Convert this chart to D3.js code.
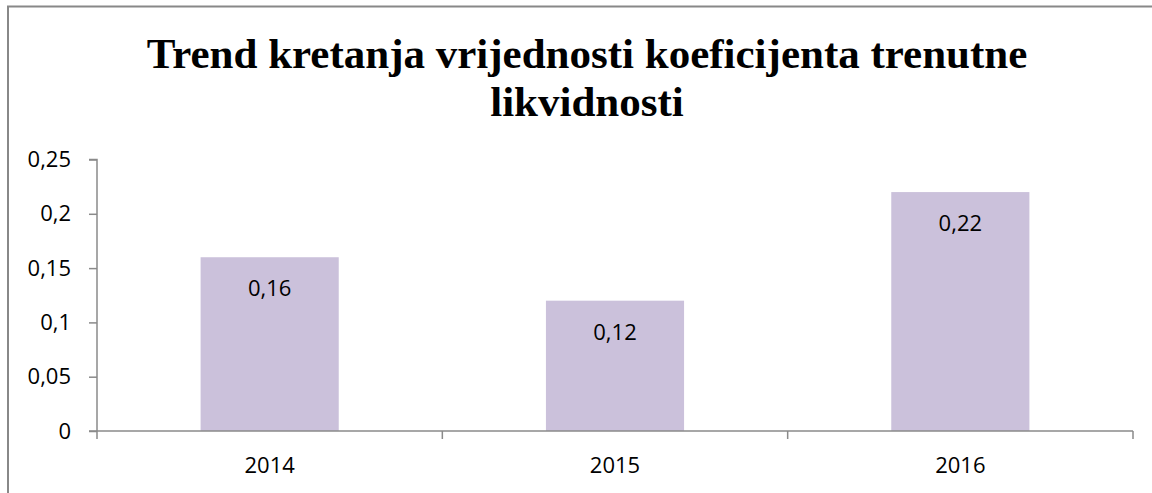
<!DOCTYPE html>
<html>
<head>
<meta charset="utf-8">
<script src="https://cdn.jsdelivr.net/npm/d3@7"></script>
<style>
  body { margin: 0; background: #fff; }
  svg { display: block; }
</style>
</head>
<body>
<svg></svg>
<script>
///////////////////////////////////////////
//////////////// Data /////////////////////
///////////////////////////////////////////
const years = ["2014", "2015", "2016"]
const values = [0.16, 0.12, 0.22]
const yTicks = [0, 0.05, 0.1, 0.15, 0.2, 0.25]
const titleLines = ["Trend kretanja vrijednosti koeficijenta trenutne", "likvidnosti"]

///////////////////////////////////////////
//////////////// Constants ////////////////
///////////////////////////////////////////
const width = 1152
const height = 493
const margin = { left: 97, right: 19, top: 159.5, bottom: 62 }

const barColour = "#cbc1db"
const axisColour = "#8a8a8a"
const textColour = "#000"
const labelFont = "'Open Sans', 'Noto Sans', sans-serif"
const labelSize = 22

const svg = d3.select("svg")
  .attr("width", width)
  .attr("height", height)

// outer chart frame (only top + left edges fall inside the picture)
svg.append("rect")
  .attr("x", 8)
  .attr("y", 6.5)
  .attr("width", 1300)
  .attr("height", 700)
  .attr("fill", "none")
  .attr("stroke", "#888")
  .attr("stroke-width", 2)

// title
svg.append("text")
  .attr("text-anchor", "middle")
  .attr("font-family", "'Liberation Serif', 'Times New Roman', serif")
  .attr("font-weight", "bold")
  .attr("font-size", 43)
  .attr("fill", textColour)
  .selectAll("tspan")
  .data(titleLines)
  .join("tspan")
    .attr("x", 587)
    .attr("y", (d, i) => 68 + i * 48)
    .text(d => d)

///////////////////////////////////////////
//////////////// Scales ///////////////////
///////////////////////////////////////////
const x = d3.scaleBand()
  .domain(years)
  .range([margin.left, width - margin.right])
  .paddingInner(0.6)
  .paddingOuter(0.3)

const bandStep = (width - margin.right - margin.left) / years.length

const y = d3.scaleLinear()
  .domain([0, 0.25])
  .range([height - margin.bottom, margin.top])

const fmt = d => String(d).replace(".", ",")

///////////////////////////////////////////
//////////////// Bars /////////////////////
///////////////////////////////////////////
svg.append("g")
  .selectAll("rect")
  .data(values)
  .join("rect")
    .attr("x", (d, i) => x(years[i]))
    .attr("width", x.bandwidth())
    .attr("y", d => y(d))
    .attr("height", d => y(0) - y(d))
    .attr("fill", barColour)

svg.append("g")
  .selectAll("text")
  .data(values)
  .join("text")
    .attr("x", (d, i) => x(years[i]) + x.bandwidth() / 2)
    .attr("y", d => y(d) + 39)
    .attr("text-anchor", "middle")
    .attr("font-family", labelFont)
    .attr("font-size", labelSize)
    .attr("fill", textColour)
    .text(d => fmt(d))

///////////////////////////////////////////
//////////////// Axes /////////////////////
///////////////////////////////////////////
const yAxis = svg.append("g")
  .attr("transform", `translate(${margin.left},0)`)
  .call(d3.axisLeft(y).tickValues(yTicks).tickFormat(fmt).tickSize(8).tickPadding(18))

yAxis.selectAll("path, line").attr("stroke", axisColour).attr("stroke-width", 1.5)
yAxis.select(".domain").attr("d", `M-8,${y(0.25)}H0V${y(0)}`)
yAxis.selectAll("text")
  .attr("font-family", labelFont)
  .attr("font-size", labelSize)
  .attr("fill", textColour)

// x axis with ticks on category boundaries
const xAxisG = svg.append("g")
  .attr("transform", `translate(0,${y(0)})`)

xAxisG.append("line")
  .attr("x1", margin.left - 8)
  .attr("x2", width - margin.right)
  .attr("stroke", axisColour)
  .attr("stroke-width", 1.5)

xAxisG.selectAll(".xtick")
  .data(d3.range(years.length + 1))
  .join("line")
    .attr("class", "xtick")
    .attr("x1", i => margin.left + i * bandStep)
    .attr("x2", i => margin.left + i * bandStep)
    .attr("y1", 0)
    .attr("y2", 8)
    .attr("stroke", axisColour)
    .attr("stroke-width", 1.5)

xAxisG.selectAll(".xlabel")
  .data(years)
  .join("text")
    .attr("class", "xlabel")
    .attr("x", d => margin.left + (years.indexOf(d) + 0.5) * bandStep)
    .attr("y", 42)
    .attr("text-anchor", "middle")
    .attr("font-family", labelFont)
    .attr("font-size", labelSize)
    .attr("fill", textColour)
    .text(d => d)
</script>
</body>
</html>
